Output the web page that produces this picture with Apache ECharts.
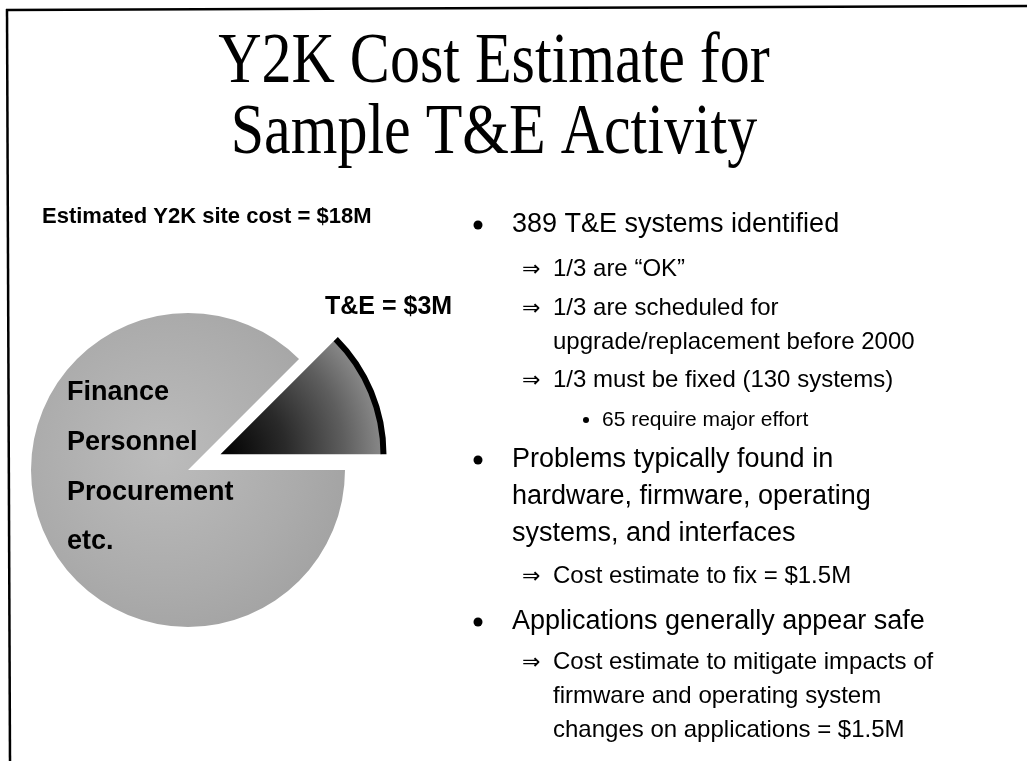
<!DOCTYPE html>
<html>
<head>
<meta charset="utf-8">
<title>Y2K Cost Estimate for Sample T&amp;E Activity</title>
<script src="https://cdn.jsdelivr.net/npm/echarts@6/dist/echarts.min.js"></script>
<style>
  html, body { margin: 0; padding: 0; background: #fff; }
  #chart { width: 1027px; height: 761px; }
</style>
</head>
<body>
<div id="chart"></div>
<script>
// slide texts
var titleLines = ['Y2K Cost Estimate for', 'Sample T&E Activity'];
var siteCostLabel = 'Estimated Y2K site cost = $18M';
var sliceLabel = 'T&E = $3M';
var otherLabels = ['Finance', 'Personnel', 'Procurement', 'etc.'];

// pie slices, share of the circle as drawn (%)
var sliceNames = ['T&E', 'Other site costs'];
var sliceShares = [12.5, 87.5];

// bullet list: level 0 = bullet, 1 = arrow, 2 = small bullet, c = continuation line
var bulletLevels = ['0', '1', '1', '1c', '1', '2', '0', '0c', '0c', '1', '0', '1', '1c', '1c'];
var bulletTexts = [
  '389 T&E systems identified',
  '1/3 are \u201cOK\u201d',
  '1/3 are scheduled for',
  'upgrade/replacement before 2000',
  '1/3 must be fixed (130 systems)',
  '65 require major effort',
  'Problems typically found in',
  'hardware, firmware, operating',
  'systems, and interfaces',
  'Cost estimate to fix = $1.5M',
  'Applications generally appear safe',
  'Cost estimate to mitigate impacts of',
  'firmware and operating system',
  'changes on applications = $1.5M'
];

// layout
var rowY = [225, 269, 308, 342, 380, 420, 460, 497, 534, 576, 622, 662, 696, 730];
var bodyCenter = [188, 470];
var sliceCenter = [190, 467];
var explode = 33;
var sans = "'Liberation Sans', Arial, sans-serif";

var chart = echarts.init(document.getElementById('chart'), null, { renderer: 'canvas' });

var g = [];

// slide frame
g.push({ type: 'line', shape: { x1: 6, y1: 10, x2: 1027, y2: 6 }, style: { stroke: '#000', lineWidth: 2.5 } });
g.push({ type: 'line', shape: { x1: 7, y1: 9, x2: 10, y2: 761 }, style: { stroke: '#000', lineWidth: 2.5 } });

// title
titleLines.forEach(function (t, i) {
  g.push({
    type: 'text', x: 494, y: [63, 134][i], scaleY: 1.2,
    style: {
      text: t, x: 0, y: 0, fill: '#000',
      font: "60px 'Liberation Serif', 'Times New Roman', serif",
      textAlign: 'center', align: 'center', textVerticalAlign: 'middle', verticalAlign: 'middle'
    }
  });
});

function label(t, x, y, font) {
  return {
    type: 'text', z: 10,
    style: {
      text: t, x: x, y: y, fill: '#000', font: font,
      textAlign: 'left', align: 'left', textVerticalAlign: 'middle', verticalAlign: 'middle'
    }
  };
}

g.push(label(siteCostLabel, 42, 217, 'bold 22px ' + sans));
g.push(label(sliceLabel, 325, 307, 'bold 25px ' + sans));
otherLabels.forEach(function (t, i) {
  g.push(label(t, 67, [393, 443, 493, 542][i], 'bold 27px ' + sans));
});

// bullet list
bulletTexts.forEach(function (t, i) {
  var lv = bulletLevels[i];
  var y = rowY[i];
  if (lv === '0' || lv === '0c') {
    if (lv === '0') g.push({ type: 'circle', shape: { cx: 478, cy: y, r: 4.5 }, style: { fill: '#000' } });
    g.push(label(t, 512, y, '27px ' + sans));
  } else if (lv === '1' || lv === '1c') {
    if (lv === '1') g.push(label('\u21d2', 522, y + 1, "22px 'DejaVu Sans', sans-serif"));
    g.push(label(t, 553, y, '24px ' + sans));
  } else {
    g.push({ type: 'circle', shape: { cx: 586, cy: y, r: 3 }, style: { fill: '#000' } });
    g.push(label(t, 602, y, '21px ' + sans));
  }
});

var bodyFill = {
  type: 'radial', x: 0.42, y: 0.45, r: 0.72,
  colorStops: [
    { offset: 0, color: '#bcbcbc' },
    { offset: 0.6, color: '#ababab' },
    { offset: 1, color: '#9e9e9e' }
  ]
};
var sliceFill = {
  type: 'radial', x: 0, y: 1, r: 1.45,
  colorStops: [
    { offset: 0, color: '#000000' },
    { offset: 0.4, color: '#2a2a2a' },
    { offset: 0.75, color: '#5e5e5e' },
    { offset: 1, color: '#8c8c8c' }
  ]
};

function pieBase(center, radius) {
  return {
    type: 'pie', center: center, radius: radius,
    startAngle: 45, clockwise: true, silent: true,
    selectedMode: 'single', selectedOffset: explode,
    label: { show: false }, labelLine: { show: false },
    itemStyle: { borderWidth: 0 },
    emphasis: { disabled: true },
    animation: false
  };
}

var body = pieBase(bodyCenter, [0, 157]);
body.data = [
  { name: sliceNames[0], value: sliceShares[0], itemStyle: { color: 'rgba(0,0,0,0)' } },
  { name: sliceNames[1], value: sliceShares[1], itemStyle: { color: bodyFill } }
];
body.selectedMode = false;

var slice = pieBase(sliceCenter, [0, 161]);
slice.data = [
  { name: sliceNames[0], value: sliceShares[0], selected: true, itemStyle: { color: sliceFill } },
  { name: sliceNames[1], value: sliceShares[1], itemStyle: { color: 'rgba(0,0,0,0)' } }
];

var rim = pieBase(sliceCenter, [160, 166]);
rim.data = [
  { name: sliceNames[0], value: sliceShares[0], selected: true, itemStyle: { color: '#000' } },
  { name: sliceNames[1], value: sliceShares[1], itemStyle: { color: 'rgba(0,0,0,0)' } }
];

chart.setOption({
  backgroundColor: '#fff',
  animation: false,
  series: [body, slice, rim],
  graphic: { elements: g }
});
</script>
</body>
</html>
